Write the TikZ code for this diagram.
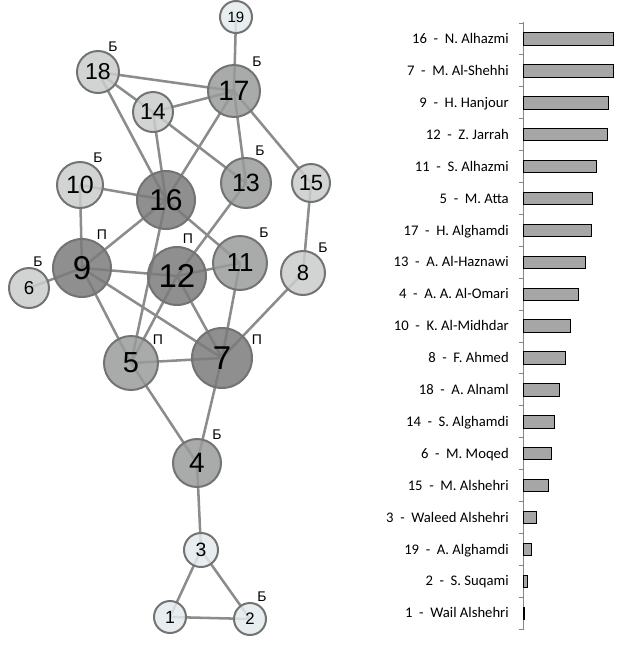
\documentclass[tikz,border=0pt]{standalone}
\usepackage{fontspec}
\setmainfont{Liberation Sans}
\newfontfamily\calibri{Carlito}
\usetikzlibrary{positioning,backgrounds}
\definecolor{vdark}{HTML}{7B7B7B}
\definecolor{vmid}{HTML}{9A9B9B}
\definecolor{vlight}{HTML}{CACDCD}
\definecolor{vpale}{HTML}{E4EBED}
\definecolor{edgegray}{HTML}{8C8C8C}
\definecolor{bargray}{HTML}{A6A6A6}
\definecolor{axisgray}{HTML}{868686}
\begin{document}
\begin{tikzpicture}[x=0.75pt, y=-0.75pt,
  vert/.style={circle, draw=black!55, line width=1.5pt, inner sep=0pt,
    fill opacity=0.85, text opacity=1},
  fs/.style={font=\fontsize{#1}{#1}\selectfont},
  edge/.style={draw=edgegray, line width=1.9pt},
  tag/.style={font=\fontsize{10.5}{12}\selectfont, inner sep=0pt},
  bar/.style={draw=black, line width=0.75pt, fill=bargray, anchor=west,
    minimum height=9.3pt, inner sep=0pt, outer sep=0pt},
  lbl/.style={font=\calibri\fontsize{11}{13}\selectfont, inner sep=0pt,
    text height=7.5pt, text depth=0.5pt}]
  \useasboundingbox (0,0) rectangle (623,647);
  % Vertices
  \node[vert, fill=vpale, minimum size=24pt, fs=11.25] (n19) at (236,17) {19};
  \node[vert, fill=vlight, minimum size=31.5pt, fs=17.25] (n18) at (98,72) {18};
  \node[vert, fill=vmid, minimum size=39pt, fs=21] (n17) at (234,91) {17};
  \node[vert, fill=vlight, minimum size=30pt, fs=17.25] (n14) at (153,112) {14};
  \node[vert, fill=vlight, minimum size=34.5pt, fs=18.75] (n10) at (80,185) {10};
  \node[vert, fill=vdark, minimum size=43.5pt, fs=22.5] (n16) at (166,200) {16};
  \node[vert, fill=vmid, minimum size=37.5pt, fs=18.75] (n13) at (246,183) {13};
  \node[vert, fill=vlight, minimum size=28.5pt, fs=16.5] (n15) at (311,183) {15};
  \node[vert, fill=vdark, minimum size=43.5pt, fs=24.75] (n9) at (82,268) {9};
  \node[vert, fill=vlight, minimum size=30pt, fs=14] (n6) at (29,288) {6};
  \node[vert, fill=vdark, minimum size=43.5pt, fs=24.75] (n12) at (177,276) {12};
  \node[vert, fill=vmid, minimum size=40.5pt, fs=19.5] (n11) at (240,263) {11};
  \node[vert, fill=vlight, minimum size=33pt, fs=16.5] (n8) at (303,273) {8};
  \node[vert, fill=vmid, minimum size=40.5pt, fs=21.75] (n5) at (131,363) {5};
  \node[vert, fill=vdark, minimum size=45pt, fs=24.75] (n7) at (222,358) {7};
  \node[vert, fill=vmid, minimum size=36pt, fs=21] (n4) at (197,463) {4};
  \node[vert, fill=vpale, minimum size=25.5pt, fs=14.5] (n3) at (201,550) {3};
  \node[vert, fill=vpale, minimum size=24pt, fs=13.25] (n1) at (170,617) {1};
  \node[vert, fill=vpale, minimum size=24pt, fs=12.5] (n2) at (250,619) {2};
  % Links
  \begin{scope}[on background layer]
    \draw[edge] (n19.center) -- (n17.center)
      (n18.center) -- (n17.center) (n18.center) -- (n14.center)
      (n18.center) -- (n16.center) (n14.center) -- (n17.center)
      (n14.center) -- (n16.center) (n14.center) -- (n13.center)
      (n17.center) -- (n16.center) (n17.center) -- (n13.center)
      (n17.center) -- (n15.center) (n10.center) -- (n16.center)
      (n10.center) -- (n9.center) (n16.center) -- (n9.center)
      (n16.center) -- (n11.center) (n16.center) -- (n5.center)
      (n13.center) -- (n12.center) (n12.center) -- (n5.center)
      (n9.center) -- (n12.center) (n12.center) -- (n11.center)
      (n9.center) -- (n6.center) (n9.center) -- (n5.center)
      (n9.center) -- (n7.center) (n12.center) -- (n7.center)
      (n11.center) -- (n7.center) (n8.center) -- (n7.center)
      (n15.center) -- (n8.center) (n5.center) -- (n7.center)
      (n5.center) -- (n4.center) (n7.center) -- (n4.center)
      (n4.center) -- (n3.center) (n3.center) -- (n1.center)
      (n3.center) -- (n2.center) (n1.center) -- (n2.center);
  \end{scope}
  % Tags
  \node[tag] (t18) at (113,47) {Б};
  \node[tag] (t17) at (257,62) {Б};
  \node[tag] (t13) at (260,151) {Б};
  \node[tag] (t10) at (98,158) {Б};
  \node[tag] (t9) at (102,235) {П};
  \node[tag] (t12) at (188,239) {П};
  \node[tag] (t11) at (264,233) {Б};
  \node[tag] (t6) at (38,262) {Б};
  \node[tag] (t8) at (323,248) {Б};
  \node[tag] (t5) at (158,340) {П};
  \node[tag] (t7) at (257,340) {П};
  \node[tag] (t4) at (217,435) {Б};
  \node[tag] (t2) at (262,597) {Б};
  % Axis
  \draw[axisgray, line width=0.75pt] (523,22) -- (523,629.5);
  \foreach \t in {0,...,19}
    \draw[axisgray, line width=0.75pt] (519,{23+31.9*\t}) -- (523,{23+31.9*\t});
  % Bars
  \node[bar, minimum width=67.7pt] (b16) at (523,39) {};
  \node[lbl, left=10.5pt of b16] (l16) {16~~-~~N.~Alhazmi};
  \node[bar, minimum width=67.7pt] (b7) at (523,70.9) {};
  \node[lbl, left=10.5pt of b7] (l7) {7~~-~~M.~Al-Shehhi};
  \node[bar, minimum width=64pt] (b9) at (523,102.8) {};
  \node[lbl, left=10.5pt of b9] (l9) {9~~-~~H.~Hanjour};
  \node[bar, minimum width=63.2pt] (b12) at (523,134.7) {};
  \node[lbl, left=10.5pt of b12] (l12) {12~~-~~Z.~Jarrah};
  \node[bar, minimum width=55pt] (b11) at (523,166.6) {};
  \node[lbl, left=10.5pt of b11] (l11) {11~~-~~S.~Alhazmi};
  \node[bar, minimum width=52pt] (b5) at (523,198.5) {};
  \node[lbl, left=10.5pt of b5] (l5) {5~~-~~M.~Atta};
  \node[bar, minimum width=51.2pt] (b17) at (523,230.4) {};
  \node[lbl, left=10.5pt of b17] (l17) {17~~-~~H.~Alghamdi};
  \node[bar, minimum width=46.7pt] (b13) at (523,262.3) {};
  \node[lbl, left=10.5pt of b13] (l13) {13~~-~~A.~Al-Haznawi};
  \node[bar, minimum width=41.5pt] (b4) at (523,294.2) {};
  \node[lbl, left=10.5pt of b4] (l4) {4~~-~~A.~A.~Al-Omari};
  \node[bar, minimum width=35.5pt] (b10) at (523,326.1) {};
  \node[lbl, left=10.5pt of b10] (l10) {10~~-~~K.~Al-Midhdar};
  \node[bar, minimum width=31.7pt] (b8) at (523,358) {};
  \node[lbl, left=10.5pt of b8] (l8) {8~~-~~F.~Ahmed};
  \node[bar, minimum width=27.2pt] (b18) at (523,389.9) {};
  \node[lbl, left=10.5pt of b18] (l18) {18~~-~~A.~Alnaml};
  \node[bar, minimum width=23.5pt] (b14) at (523,421.8) {};
  \node[lbl, left=10.5pt of b14] (l14) {14~~-~~S.~Alghamdi};
  \node[bar, minimum width=21.2pt] (b6) at (523,453.7) {};
  \node[lbl, left=10.5pt of b6] (l6) {6~~-~~M.~Moqed};
  \node[bar, minimum width=19pt] (b15) at (523,485.6) {};
  \node[lbl, left=10.5pt of b15] (l15) {15~~-~~M.~Alshehri};
  \node[bar, minimum width=10pt] (b3) at (523,517.5) {};
  \node[lbl, left=10.5pt of b3] (l3) {3~~-~~Waleed~Alshehri};
  \node[bar, minimum width=6.2pt] (b19) at (523,549.4) {};
  \node[lbl, left=10.5pt of b19] (l19) {19~~-~~A.~Alghamdi};
  \node[bar, minimum width=3.2pt] (b2) at (523,581.3) {};
  \node[lbl, left=10.5pt of b2] (l2) {2~~-~~S.~Suqami};
  \node[bar, minimum width=1pt] (b1) at (523,613.2) {};
  \node[lbl, left=10.5pt of b1] (l1) {1~~-~~Wail~Alshehri};
\end{tikzpicture}
\end{document}
